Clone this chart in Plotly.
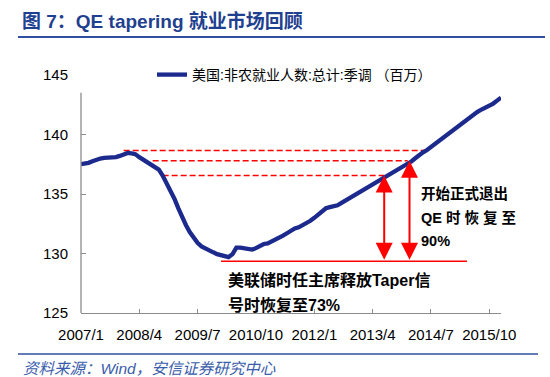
import plotly.graph_objects as go
import pandas as pd

# ---------------- data ----------------
series_name = "美国:非农就业人数:总计:季调 （百万）"
months = pd.date_range("2007-01-01", periods=109, freq="MS").strftime("%Y-%m-%d").tolist()
payrolls = [
    137.50, 137.55, 137.62, 137.75, 137.90, 137.98, 138.03, 138.03, 138.05, 138.10, 138.20, 138.30,
    138.45, 138.42, 138.35, 138.10, 137.90, 137.72, 137.55, 137.35, 137.05, 136.55, 135.90, 135.40,
    134.60, 133.80, 133.10, 132.40, 131.80, 131.30, 130.90, 130.60, 130.40, 130.25, 130.10, 129.95,
    129.85, 129.70, 129.70, 129.95, 130.50, 130.50, 130.42, 130.38, 130.33, 130.45, 130.68, 130.80,
    130.85, 131.00, 131.20, 131.35, 131.50, 131.70, 131.95, 132.10, 132.20, 132.35, 132.55, 132.75,
    133.00, 133.30, 133.55, 133.80, 133.90, 133.95, 134.05, 134.25, 134.45, 134.60, 134.75, 134.95,
    135.15, 135.40, 135.60, 135.80, 136.00, 136.20, 136.40, 136.60, 136.80, 137.00, 137.20, 137.35,
    137.55, 137.75, 138.00, 138.30, 138.50, 138.70, 138.95, 139.20, 139.40, 139.65, 139.90, 140.15,
    140.45, 140.70, 140.95, 141.25, 141.50, 141.70, 141.90, 142.10, 142.25, 142.40, 142.60, 142.85,
    143.10,
]
tick_dates = ["2007-01-01", "2008-04-01", "2009-07-01", "2010-10-01",
              "2012-01-01", "2013-04-01", "2014-07-01", "2015-10-01"]
tick_labels = ["2007/1", "2008/4", "2009/7", "2010/10", "2012/1", "2013/4", "2014/7", "2015/10"]
y_ticks = [125, 130, 135, 140, 145]

# reference levels (pre-crisis peak, QE exit level, taper-signal level, trough)
peak_level = 138.65
qe_exit_level = 137.80
taper_signal_level = 136.55
trough_level = 129.35
# (start, end) months of the reference lines
peak_span = ("2007-12-01", "2014-06-15")
qe_exit_span = ("2008-07-15", "2014-01-01")
taper_span = ("2008-10-01", "2013-07-01")
trough_span = ("2010-01-01", "2015-04-10")
taper_month = "2013-07-01"
qe_exit_month = "2014-01-15"

# ---------------- layout helpers ----------------
W, H = 550, 377
L, R, T, B = 81, 501, 75, 313


def px(x):
    return (x - L) / (R - L)


def py(y):
    return (B - y) / (B - T)


FONT = "Liberation Sans, Noto Sans CJK SC, sans-serif"
RED = "#FF0000"
NAVY = "#1B2A8C"
GREY = "#8C8C8C"

fig = go.Figure()
fig.add_trace(go.Scatter(
    x=months, y=payrolls, mode="lines", name=series_name,
    line=dict(color=NAVY, width=4.3),
))

shapes = []
for level, (s, e) in [(peak_level, peak_span), (qe_exit_level, qe_exit_span),
                      (taper_signal_level, taper_span)]:
    shapes.append(dict(type="line", xref="x", yref="y", x0=s, x1=e, y0=level, y1=level,
                       line=dict(color=RED, width=1.5, dash="6px,3px"), layer="below"))
shapes.append(dict(type="line", xref="x", yref="y", x0=trough_span[0], x1=trough_span[1],
                   y0=trough_level, y1=trough_level, line=dict(color=RED, width=1.5), layer="below"))
# y axis line (stops short of the top label, as in the original)
shapes.append(dict(type="line", xref="paper", yref="y", x0=0, x1=0, y0=125, y1=143.5,
                   line=dict(color=GREY, width=1.3)))
# title underline and footer rule
shapes.append(dict(type="line", xref="paper", yref="paper", x0=px(18), x1=px(545),
                   y0=py(37), y1=py(37), line=dict(color="#2F4F9F", width=2)))
shapes.append(dict(type="line", xref="paper", yref="paper", x0=px(18), x1=px(538),
                   y0=py(354), y1=py(354), line=dict(color="#2F4F9F", width=1.5)))

annotations = []
for m, level in [(taper_month, taper_signal_level), (qe_exit_month, qe_exit_level)]:
    annotations.append(dict(x=m, y=level, ax=m, ay=trough_level, xref="x", yref="y",
                            axref="x", ayref="y", text="", showarrow=True,
                            arrowhead=2, startarrowhead=2, arrowside="end+start",
                            arrowsize=1.7, startarrowsize=1.7, arrowwidth=2,
                            arrowcolor=RED, standoff=0, startstandoff=0))

right_lines = ["开始正式退出", "QE 时 恢 复 至", "90%"]
for txt, yy in zip(right_lines, [194, 218, 241]):
    annotations.append(dict(text="<b>" + txt + "</b>", xref="paper", yref="paper",
                            x=px(419), y=py(yy), xanchor="left", yanchor="middle",
                            showarrow=False, font=dict(family=FONT, size=14.5, color="#000000")))
bottom_lines = ["美联储时任主席释放Taper信", "号时恢复至73%"]
for txt, yy in zip(bottom_lines, [280, 305]):
    annotations.append(dict(text="<b>" + txt + "</b>", xref="paper", yref="paper",
                            x=px(226), y=py(yy), xanchor="left", yanchor="middle",
                            showarrow=False, font=dict(family=FONT, size=16, color="#000000")))

annotations.append(dict(text="<b>图 7：QE tapering 就业市场回顾</b>", xref="paper", yref="paper",
                        x=px(20), y=py(21), xanchor="left", yanchor="middle", showarrow=False,
                        font=dict(family=FONT, size=19, color="#1F3F8F")))
annotations.append(dict(text="<i>资料来源：Wind，安信证券研究中心</i>", xref="paper", yref="paper",
                        x=px(21), y=py(368), xanchor="left", yanchor="middle", showarrow=False,
                        font=dict(family=FONT, size=15.5, color="#3A5CAA")))

fig.update_layout(
    width=W, height=H,
    margin=dict(l=L, r=W - R, t=T, b=H - B, pad=0),
    paper_bgcolor="white", plot_bgcolor="white",
    font=dict(family=FONT, size=15, color="#000000"),
    showlegend=True,
    legend=dict(x=px(152), y=py(59), xanchor="left", yanchor="top",
                bgcolor="rgba(0,0,0,0)", font=dict(family=FONT, size=14, color="#000000")),
    shapes=shapes, annotations=annotations,
    xaxis=dict(type="date", range=[months[0], months[-1]], tickvals=tick_dates,
               ticktext=tick_labels, ticks="inside", ticklen=4, tickcolor=GREY,
               showline=True, linecolor=GREY, linewidth=1.3, showgrid=False, zeroline=False,
               ticklabelstandoff=8, tickfont=dict(size=15)),
    yaxis=dict(range=[125, 145], tickvals=y_ticks, ticks="inside", ticklen=5, tickcolor=GREY,
               showline=False, showgrid=False, zeroline=False, ticklabelstandoff=12,
               tickfont=dict(size=15)),
)

fig.write_html("out.html", config={"displayModeBar": False},
               post_script="document.body.style.margin='0';document.body.style.overflow='hidden';")
